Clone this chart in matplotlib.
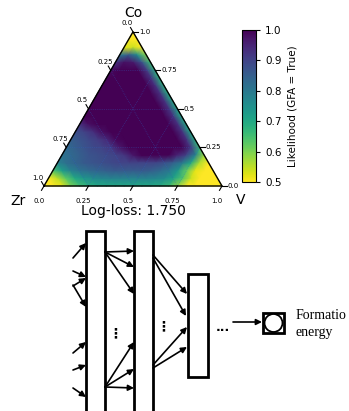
import numpy as np
import matplotlib.pyplot as plt
import matplotlib.tri as mtri
from matplotlib.patches import Rectangle, Circle, FancyArrowPatch

# likelihood; row i -> Co = i/20, entry j -> V = j/20 (Zr = rest)
likelihood_rows = [
    [0.45, 0.47, 0.52, 0.6, 0.65, 0.68, 0.7, 0.7, 0.7, 0.7, 0.7, 0.7, 0.7, 0.69, 0.66, 0.58, 0.5, 0.46, 0.45, 0.45, 0.45],
    [0.5, 0.55, 0.63, 0.7, 0.74, 0.76, 0.77, 0.78, 0.78, 0.78, 0.78, 0.78, 0.77, 0.76, 0.72, 0.64, 0.54, 0.48, 0.46, 0.45],
    [0.64, 0.72, 0.78, 0.81, 0.83, 0.84, 0.85, 0.86, 0.86, 0.86, 0.86, 0.85, 0.83, 0.8, 0.74, 0.62, 0.52, 0.48, 0.45],
    [0.78, 0.82, 0.84, 0.86, 0.87, 0.88, 0.89, 0.9, 0.9, 0.9, 0.9, 0.9, 0.88, 0.85, 0.8, 0.7, 0.56, 0.5],
    [0.81, 0.83, 0.85, 0.87, 0.88, 0.89, 0.9, 0.92, 0.97, 1, 1, 1, 1, 0.95, 0.9, 0.78, 0.58],
    [0.83, 0.85, 0.87, 0.89, 0.9, 0.92, 0.97, 1, 1, 1, 1, 1, 1, 1, 0.92, 0.66],
    [0.85, 0.87, 0.89, 0.91, 0.94, 0.99, 1, 1, 1, 1, 1, 1, 1, 0.93, 0.69],
    [0.88, 0.9, 0.93, 0.98, 1, 1, 1, 1, 1, 1, 1, 1, 0.93, 0.7],
    [0.93, 0.98, 1, 1, 1, 1, 1, 1, 1, 1, 1, 0.93, 0.7],
    [1, 1, 1, 1, 1, 1, 1, 1, 1, 1, 0.93, 0.7],
    [1, 1, 1, 1, 1, 1, 1, 1, 1, 0.93, 0.7],
    [1, 1, 1, 1, 1, 1, 1, 1, 0.93, 0.7],
    [1, 1, 1, 1, 1, 1, 1, 0.93, 0.69],
    [1, 1, 1, 1, 1, 1, 0.93, 0.68],
    [1, 1, 1, 1, 1, 0.93, 0.68],
    [0.99, 1, 1, 1, 0.92, 0.68],
    [0.93, 0.98, 0.97, 0.88, 0.66],
    [0.8, 0.86, 0.76, 0.6],
    [0.52, 0.54, 0.5],
    [0.45, 0.45],
    [0.45],
]

axis_ticks = [0.0, 0.25, 0.5, 0.75, 1.0]
axis_labels = ["0.0", "0.25", "0.5", "0.75", "1.0"]
cbar_ticks = [0.5, 0.6, 0.7, 0.8, 0.9, 1.0]

# network sketch: arrows (x1, y1, x2, y2) in pixel coords
arrows = [
    (73, 258, 86, 243), (73, 271, 86, 277), (73, 286, 86, 278), (73, 285, 86, 307),
    (73, 353, 86, 342), (73, 370, 86, 365), (73, 388, 86, 397),
    (105, 252, 134, 251), (105, 252, 134, 267), (105, 252, 134, 294),
    (105, 387, 134, 342), (105, 387, 134, 369), (105, 387, 134, 388),
    (153, 255, 187, 294), (153, 258, 186, 316),
    (153, 365, 187, 327), (153, 368, 187, 347),
    (233, 322, 262, 322),
]
layers = [(86, 231, 19, 200), (134, 231, 19, 200), (188, 274, 20, 103)]

fig = plt.figure(figsize=(3.49, 4.11), dpi=100)
ax = fig.add_axes([0, 0, 1, 1])
ax.set_xlim(0, 349)
ax.set_ylim(411, 0)
ax.axis('off')

x0, y0, side = 44, 186, 178
h = side * np.sqrt(3) / 2


def to_xy(co, v):
    return x0 + side * (v + co / 2), y0 - h * co


xs, ys, zs = [], [], []
for i, row in enumerate(likelihood_rows):
    for j, val in enumerate(row):
        x, y = to_xy(i / 20, j / 20)
        xs.append(x)
        ys.append(y)
        zs.append(val)
tri = mtri.Triangulation(xs, ys)
tpc = ax.tripcolor(tri, zs, cmap='viridis_r', vmin=0.5, vmax=1.0, shading='gouraud')

# gridlines
for t in [0.25, 0.5, 0.75]:
    for a, b in [((t, 0), (t, 1 - t)), ((0, t), (1 - t, t)), ((0, 1 - t), (1 - t, 0))]:
        p, q = to_xy(*a), to_xy(*b)
        ax.plot([p[0], q[0]], [p[1], q[1]], color='#3060c0', lw=0.5, ls=':', alpha=0.6)

# boundary
corners = [to_xy(0, 0), to_xy(0, 1), to_xy(1, 0), to_xy(0, 0)]
ax.plot([c[0] for c in corners], [c[1] for c in corners], color='black', lw=1.0)

# ticks
for t, lab in zip(axis_ticks, axis_labels):
    bx, by = to_xy(0, t)
    ax.plot([bx, bx - 2.5], [by, by + 4.3], color='black', lw=0.8)
    ax.text(bx - 5, by + 15, lab, fontsize=5, ha='center', va='center')
    lx, ly = to_xy(1 - t, 0)
    ax.plot([lx, lx - 2.5], [ly, ly - 4.3], color='black', lw=0.8)
    ax.text(lx - 6, ly - 8.5, lab, fontsize=5, ha='center', va='center')
    rx, ry = to_xy(t, 1 - t)
    ax.plot([rx, rx + 5], [ry, ry], color='black', lw=0.8)
    ax.text(rx + 6, ry, lab, fontsize=5, ha='left', va='center')

ax.text(133, 13, 'Co', fontsize=10, ha='center', va='center')
ax.text(18, 201, 'Zr', fontsize=10, ha='center', va='center')
ax.text(241, 200, 'V', fontsize=10, ha='center', va='center')
ax.text(133, 211, 'Log-loss: 1.750', fontsize=10, ha='center', va='center')

cax = fig.add_axes([242 / 349, 1 - 182 / 411, 14 / 349, 152 / 411])
cb = fig.colorbar(tpc, cax=cax, ticks=cbar_ticks)
cb.set_label('Likelihood (GFA = True)', fontsize=7.5)
cb.ax.tick_params(labelsize=7.5, length=3, width=0.8)
cb.outline.set_linewidth(0.8)

# network diagram
for (lx, ly, w, hh) in layers:
    ax.add_patch(Rectangle((lx, ly), w, hh, facecolor='white', edgecolor='black', lw=2.0, zorder=2))
for (a, b, c, d) in arrows:
    ax.add_patch(FancyArrowPatch((a, b), (c, d), arrowstyle='-|>', mutation_scale=8.5,
                                 color='black', lw=1.2, shrinkA=0, shrinkB=0, zorder=3))
ax.add_patch(Rectangle((263, 313), 21, 20, facecolor='white', edgecolor='black', lw=2.0, zorder=2))
ax.add_patch(Circle((273.5, 323), 9, facecolor='white', edgecolor='black', lw=1.3, zorder=3))
ax.text(115, 333, '⋮', fontsize=10, fontweight='bold', ha='center', va='center')
ax.text(163, 326, '⋮', fontsize=10, fontweight='bold', ha='center', va='center')
ax.text(223, 327, '...', fontsize=9, fontweight='bold', ha='center', va='center')
ax.text(296, 315, 'Formatio', fontsize=10, family='Liberation Serif', ha='left', va='center')
ax.text(296, 332, 'energy', fontsize=10, family='Liberation Serif', ha='left', va='center')

fig.savefig('out.png', dpi=100)
